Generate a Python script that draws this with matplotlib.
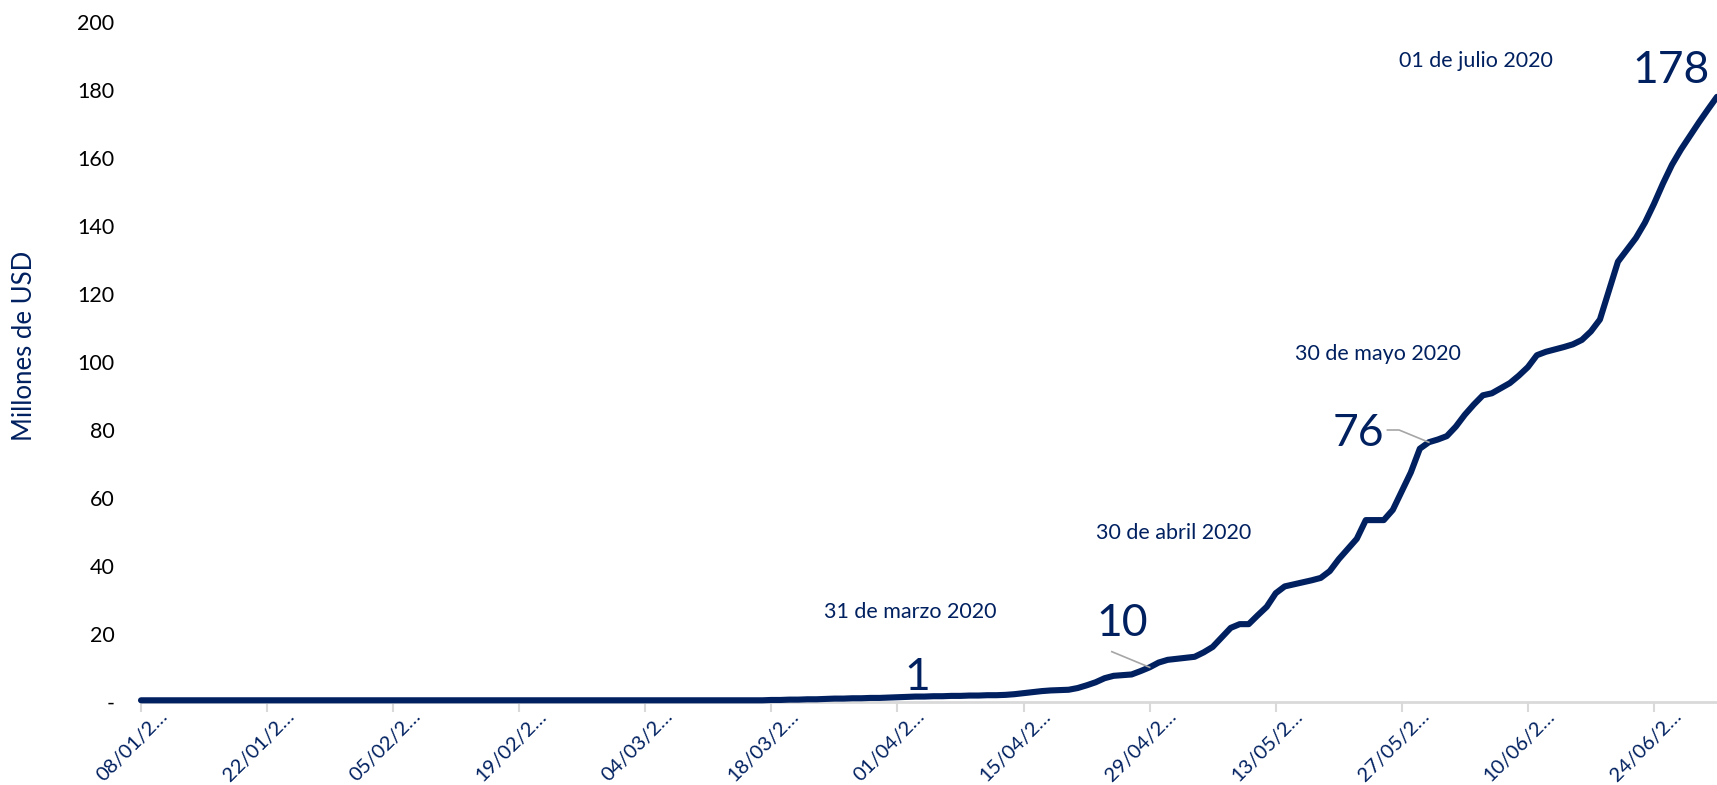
"""
Millones de USD acumulados, enero - julio 2020
Line chart with milestone call-outs
"""

import matplotlib
matplotlib.use('Agg')
import matplotlib.pyplot as plt
import pandas as pd

# ----- data (one value per day) -----
dates = pd.date_range('2020-01-08', '2020-07-01', freq='D')

values = [
    # 08/01 - 17/03 (days 0-69)
    0.5, 0.5, 0.5, 0.5, 0.5, 0.5, 0.5, 0.5, 0.5, 0.5,
    0.5, 0.5, 0.5, 0.5, 0.5, 0.5, 0.5, 0.5, 0.5, 0.5,
    0.5, 0.5, 0.5, 0.5, 0.5, 0.5, 0.5, 0.5, 0.5, 0.5,
    0.5, 0.5, 0.5, 0.5, 0.5, 0.5, 0.5, 0.5, 0.5, 0.5,
    0.5, 0.5, 0.5, 0.5, 0.5, 0.5, 0.5, 0.5, 0.5, 0.5,
    0.5, 0.5, 0.5, 0.5, 0.5, 0.5, 0.5, 0.5, 0.5, 0.5,
    0.5, 0.5, 0.5, 0.5, 0.5, 0.5, 0.5, 0.5, 0.5, 0.5,
    # days 70-99
    0.6, 0.6, 0.7, 0.7, 0.8, 0.8, 0.9, 1.0, 1.0, 1.1,
    1.1, 1.2, 1.2, 1.3, 1.4, 1.5, 1.6, 1.6, 1.7, 1.7,
    1.8, 1.8, 1.9, 1.9, 2.0, 2.0, 2.1, 2.3, 2.6, 2.9,
    # days 100-129
    3.2, 3.4, 3.5, 3.6, 4.1, 4.9, 5.8, 7.0, 7.7, 7.9,
    8.1, 9.1, 10.2, 11.6, 12.4, 12.7, 13.0, 13.3, 14.6, 16.2,
    19.0, 21.8, 22.9, 22.9, 25.5, 28.0, 32.0, 34.0, 34.6, 35.2,
    # days 130-159
    35.8, 36.5, 38.5, 42.0, 45.0, 48.0, 53.5, 53.5, 53.5, 56.5,
    62.0, 67.5, 74.5, 76.4, 77.2, 78.2, 81.0, 84.5, 87.5, 90.2,
    90.8, 92.3, 93.8, 96.0, 98.5, 102.0, 103.0, 103.7, 104.4, 105.2,
    # days 160-175
    106.5, 109.0, 112.5, 121.0, 129.5, 133.0, 136.5, 141.0, 146.5, 152.5,
    158.0, 162.5, 166.5, 170.5, 174.3, 178.0,
]

y_ticks = [0, 20, 40, 60, 80, 100, 120, 140, 160, 180, 200]
y_labels = ['-', '20', '40', '60', '80', '100', '120', '140', '160', '180', '200']

# milestones: (label, big number, day index)
milestones = [
    ('31 de marzo 2020', '1', 83),
    ('30 de abril 2020', '10', 112),
    ('30 de mayo 2020', '76', 143),
    ('01 de julio 2020', '178', 175),
]

navy = '#002060'
grey_axis = '#D9D9D9'
grey_leader = '#A6A6A6'

plt.rcParams['font.family'] = ['Lato', 'DejaVu Sans']

fig = plt.figure(figsize=(17.17, 7.85), dpi=100)
ax = fig.add_axes([141 / 1717, 1 - 702 / 785, 1 - 141 / 1717, (702 - 22) / 785])

x = list(range(len(values)))
ax.plot(x, values, color=navy, lw=4.4, solid_capstyle='round',
        solid_joinstyle='round', clip_on=False, zorder=3)

ax.set_xlim(0, len(values) - 1)
ax.set_ylim(0, 200)

# x axis: one tick every 14 days, labels truncated like the original
tick_idx = list(range(0, len(dates), 14))
ax.set_xticks(tick_idx)
ax.set_xticklabels([])
ax.tick_params(axis='x', length=7, width=1.5, color=grey_axis)
for i in tick_idx:
    ax.annotate(dates[i].strftime('%d/%m/2') + '\u2026',
                xy=(i, 0), xycoords=('data', 'axes fraction'),
                xytext=(17.5, -8), textcoords='offset points',
                rotation=45, ha='right', va='center', rotation_mode='anchor',
                color=navy, fontsize=14.5, annotation_clip=False)

ax.set_yticks(y_ticks)
ax.set_yticklabels(y_labels, fontsize=15.5, color='black')
ax.tick_params(axis='y', length=0, pad=19)

for side in ['top', 'right', 'left']:
    ax.spines[side].set_visible(False)
ax.spines['bottom'].set_color(grey_axis)
ax.spines['bottom'].set_linewidth(2)

fig.text(24 / 1717, 1 - 346 / 785, 'Millones de USD', rotation=90,
         ha='center', va='center', color=navy, fontsize=18.5)

# ----- call-outs -----
# date captions
ax.text(85.4, 26.5, milestones[0][0], ha='center', va='center', color=navy, fontsize=15.5)
ax.text(114.7, 49.7, milestones[1][0], ha='center', va='center', color=navy, fontsize=15.5)
ax.text(137.3, 102.5, milestones[2][0], ha='center', va='center', color=navy, fontsize=15.5)
ax.text(148.2, 188.6, milestones[3][0], ha='center', va='center', color=navy, fontsize=15.5)

# big numbers
ax.text(86.2, 7.3, milestones[0][1], ha='center', va='center', color=navy, fontsize=32)
ax.text(108.9, 23.0, milestones[1][1], ha='center', va='center', color=navy, fontsize=32)
ax.text(135.2, 79.0, milestones[2][1], ha='center', va='center', color=navy, fontsize=32)
ax.text(169.9, 185.6, milestones[3][1], ha='center', va='center', color=navy, fontsize=32)

# leader lines to the data points
i10 = milestones[1][2]
ax.plot([i10 - 4.2, i10], [values[i10] + 4.6, values[i10]], color=grey_leader, lw=1.2, zorder=4)
i76 = milestones[2][2]
ax.plot([i76 - 4.6, i76 - 3.3, i76], [values[i76] + 3.6, values[i76] + 3.6, values[i76]],
        color=grey_leader, lw=1.2, zorder=4)

fig.savefig('out.png', dpi=100)
